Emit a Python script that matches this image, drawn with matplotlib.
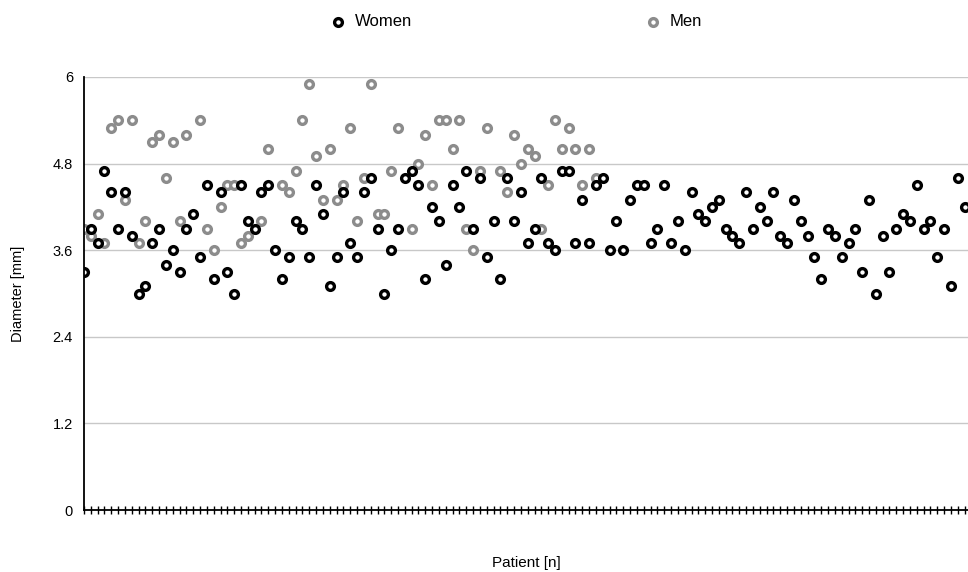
import numpy as np
import matplotlib
matplotlib.use("Agg")
from matplotlib import pyplot as plt
from matplotlib.lines import Line2D

plt.rcParams['font.family'] = ['Liberation Sans', 'DejaVu Sans']

# diameters, one value per patient
women = [3.3, 3.9, 3.7, 4.7, 4.4, 3.9, 4.4, 3.8, 3.0, 3.1,
         3.7, 3.9, 3.4, 3.6, 3.3, 3.9, 4.1, 3.5, 4.5, 3.2,
         4.4, 3.3, 3.0, 4.5, 4.0, 3.9, 4.4, 4.5, 3.6, 3.2,
         3.5, 4.0, 3.9, 3.5, 4.5, 4.1, 3.1, 3.5, 4.4, 3.7,
         3.5, 4.4, 4.6, 3.9, 3.0, 3.6, 3.9, 4.6, 4.7, 4.5,
         3.2, 4.2, 4.0, 3.4, 4.5, 4.2, 4.7, 3.9, 4.6, 3.5,
         4.0, 3.2, 4.6, 4.0, 4.4, 3.7, 3.9, 4.6, 3.7, 3.6,
         4.7, 4.7, 3.7, 4.3, 3.7, 4.5, 4.6, 3.6, 4.0, 3.6,
         4.3, 4.5, 4.5, 3.7, 3.9, 4.5, 3.7, 4.0, 3.6, 4.4,
         4.1, 4.0, 4.2, 4.3, 3.9, 3.8, 3.7, 4.4, 3.9, 4.2,
         4.0, 4.4, 3.8, 3.7, 4.3, 4.0, 3.8, 3.5, 3.2, 3.9,
         3.8, 3.5, 3.7, 3.9, 3.3, 4.3, 3.0, 3.8, 3.3, 3.9,
         4.1, 4.0, 4.5, 3.9, 4.0, 3.5, 3.9, 3.1, 4.6, 4.2]

nan = np.nan
men = [3.9, 3.8, 4.1, 3.7, 5.3, 5.4, 4.3, 5.4, 3.7, 4.0,
       5.1, 5.2, 4.6, 5.1, 4.0, 5.2, nan, 5.4, 3.9, 3.6,
       4.2, 4.5, 4.5, 3.7, 3.8, nan, 4.0, 5.0, nan, 4.5,
       4.4, 4.7, 5.4, 5.9, 4.9, 4.3, 5.0, 4.3, 4.5, 5.3,
       4.0, 4.6, 5.9, 4.1, 4.1, 4.7, 5.3, nan, 3.9, 4.8,
       5.2, 4.5, 5.4, 5.4, 5.0, 5.4, 3.9, 3.6, 4.7, 5.3,
       nan, 4.7, 4.4, 5.2, 4.8, 5.0, 4.9, 3.9, 4.5, 5.4,
       5.0, 5.3, 5.0, 4.5, 5.0, 4.6]

y_ticks = [0, 1.2, 2.4, 3.6, 4.8, 6]
y_labels = ["0", "1.2", "2.4", "3.6", "4.8", "6"]

W, H = 968, 572
fig = plt.figure(figsize=(W / 100, H / 100), dpi=100)
ax = fig.add_axes([84 / W, 1 - 510 / H, 1 - 84 / W, (510 - 77) / H])

women_style = dict(linestyle='none', marker='o', markersize=5.6, markeredgewidth=2.4,
                   markerfacecolor='white', markeredgecolor='black')
men_style = dict(women_style, markeredgecolor='#8c8c8c')

ax.plot(np.arange(len(men)), men, zorder=3, **men_style)
ax.plot(np.arange(len(women)), women, zorder=4, **women_style)

ax.set_xlim(0, 129.5)
ax.set_ylim(0, 6)
ax.set_yticks(y_ticks)
ax.set_yticklabels(y_labels)
ax.set_xticks(np.arange(len(women)))
ax.set_xticklabels([])
ax.tick_params(axis='x', direction='inout', length=6, width=1, color='black')
ax.tick_params(axis='y', length=0, pad=8, labelsize=10.5)
ax.grid(axis='y', color='#c8c8c8', linewidth=1)
ax.set_axisbelow(True)
for side in ['top', 'right']:
    ax.spines[side].set_visible(False)
ax.spines['left'].set_linewidth(1.3)
ax.spines['bottom'].set_linewidth(1.3)
ax.spines['left'].set_zorder(5)

ax.set_ylabel("Diameter [mm]", fontsize=10.5, va='center')
ax.yaxis.set_label_coords(-66 / 884, 0.5)
ax.set_xlabel("Patient [n]", fontsize=11, va='center')
ax.xaxis.set_label_coords(0.5, -53 / 433)

# legend across the top
for x, label, style in [(338, "Women", women_style), (653, "Men", men_style)]:
    fig.add_artist(Line2D([x / W], [1 - 22 / H], transform=fig.transFigure, **style))
    fig.text((x + 17) / W, 1 - 22 / H, label, fontsize=12, va='center', ha='left')

fig.savefig("out.png", dpi=100)
